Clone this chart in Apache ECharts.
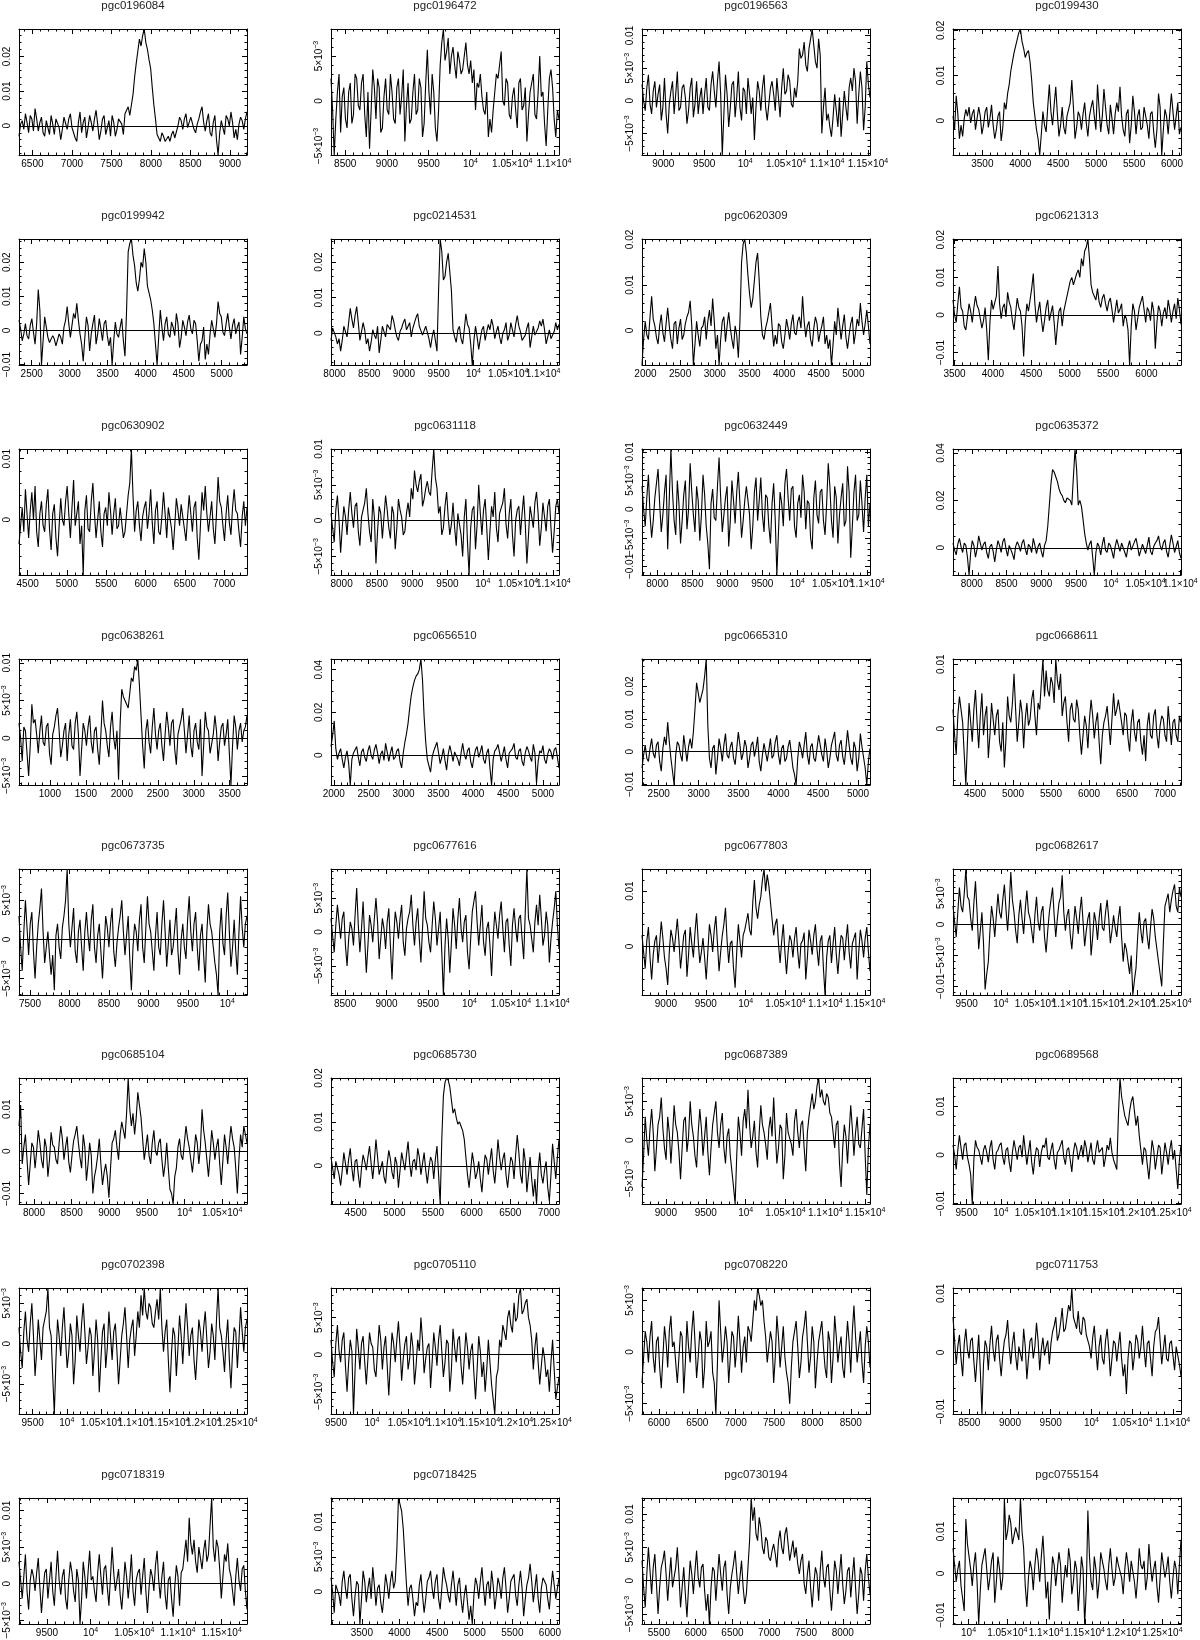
<!DOCTYPE html>
<html><head><meta charset="utf-8">
<script src="https://cdn.jsdelivr.net/npm/echarts@6/dist/echarts.min.js"></script>
<style>html,body{margin:0;padding:0;background:#fff}#c{width:1200px;height:1640px}</style>
</head><body><div id="c"></div>
<script>
const names = ['pgc0196084','pgc0196472','pgc0196563','pgc0199430','pgc0199942','pgc0214531','pgc0620309','pgc0621313',
'pgc0630902','pgc0631118','pgc0632449','pgc0635372','pgc0638261','pgc0656510','pgc0665310','pgc0668611',
'pgc0673735','pgc0677616','pgc0677803','pgc0682617','pgc0685104','pgc0685730','pgc0687389','pgc0689568',
'pgc0702398','pgc0705110','pgc0708220','pgc0711753','pgc0718319','pgc0718425','pgc0730194','pgc0755154'];
// velocity range of each spectrum (km/s)
const xStart = [6330,8330,8740,3113,2333,7950,1950,3480, 4390,7850,7780,7730,570,1960,2290,4210, 7360,8330,8700,9300,7800,4180,8700,9300, 9300,9430,5780,8300,9180,3090,5270,9800];
const xEnd   = [9215,11060,11525,6118,5333,11230,5240,6450, 7290,11080,11040,11010,3740,5230,5150,7210, 10250,11080,11560,12640,10830,7130,11560,12640, 12640,12600,8750,11100,11790,6120,8370,12740];
// major tick step of each flux axis (Jy) and of the velocity axes
const yTick = [0.01,0.005,0.005,0.01,0.01,0.01,0.01,0.01, 0.01,0.005,0.005,0.02,0.005,0.02,0.01,0.01, 0.005,0.005,0.01,0.005,0.01,0.01,0.005,0.01, 0.005,0.005,0.005,0.01,0.005,0.005,0.005,0.01];
const xTick = 500;
// flux values, in units of 1e-4 Jy, one per channel
const UNIT = 1e-4;
const f01=[-30,5,15,-10,35,10,-20,30,20,-15,50,20,-15,10,25,-20,-30,15,10,-25,30,5,-25,20,15,-5,-40,-10,25,30,-10,20,35,-5,-20,-35,-45,10,40,-20,10,25,-35,-5,30,10,-15,20,45,5,-40,-15,20,30,-25,-5,15,-30,30,10,-30,-10,20,25,5,-25,35,40,55,30,60,90,140,180,215,250,230,260,279,240,220,190,165,110,60,20,-25,-35,-45,-20,-30,-45,-40,-30,-45,-25,-15,-35,-40,0,25,15,-10,20,35,-5,10,25,30,-10,-20,5,20,40,55,10,-15,15,35,-20,-30,10,30,-40,-84,-20,15,-5,-25,30,20,0,40,10,-35,-10,-40,5,25,15,-10,20,40];
const f02=[25,-10,-60,-20,10,30,-35,5,15,-20,-30,10,20,-25,-15,30,25,-5,-10,20,30,-15,-40,10,-53,-10,35,15,-20,25,15,-35,-30,5,25,-10,-15,30,10,-20,-25,15,25,-15,5,35,-45,-5,20,-25,-20,10,30,-15,-10,25,15,-40,-25,20,57,10,-15,30,10,-30,-45,-10,40,65,80,45,55,70,30,50,60,40,25,55,45,30,35,50,65,40,30,45,20,35,-10,20,15,30,5,-10,-15,10,-40,-20,-35,-10,10,30,25,40,55,0,-5,25,20,-15,-20,5,15,-10,-30,20,25,-10,-5,15,-45,-15,10,20,30,-15,-20,10,50,5,10,-25,-50,-10,25,35,15,-20,-40,-10,-20];
const f03=[25,0,-15,20,40,-5,-20,15,30,-10,10,25,-30,-10,35,-20,-50,-5,15,30,-20,10,45,-15,-10,20,25,5,-35,-15,20,35,-25,-5,30,-20,5,20,-20,10,35,-10,-15,25,45,15,-10,30,60,10,-83,-20,40,10,-40,-10,25,30,-25,5,45,-10,-30,20,15,-20,35,10,-20,5,-60,-10,30,15,-15,20,40,-10,-30,-5,20,30,10,-15,35,5,-25,20,50,10,15,40,30,-5,-10,20,5,30,80,65,70,90,55,45,80,95,110,85,60,50,95,70,-50,-10,20,-30,-20,-40,-55,-25,10,-15,-40,5,-55,-20,15,-10,-30,20,35,15,50,30,-35,10,45,20,-45,-10,60,25,5];
const f04=[10,-20,55,15,-40,-10,-35,5,25,10,30,-5,15,25,-20,5,30,10,-30,-10,20,30,-15,5,35,-10,-40,-20,10,20,-45,-15,40,25,60,80,110,130,150,165,180,195,203,175,160,140,150,155,130,90,40,10,-20,-40,-76,-30,20,-10,-25,30,80,20,-10,35,75,15,-35,-10,30,-15,-30,10,25,40,90,30,-40,-15,20,10,-20,15,40,-5,-35,10,30,45,10,-20,80,25,-25,10,70,30,-10,-30,35,5,-30,15,40,20,75,10,-20,-35,15,25,-50,-10,55,20,-30,10,25,-20,-15,30,30,-10,-40,15,20,-25,-60,-20,60,30,-76,-20,25,10,-30,15,60,20,-20,10,40,-30,-15];
const f05=[30,5,-30,-10,20,-15,-25,15,35,-5,-40,20,120,60,-101,-30,40,10,-20,-35,-40,-15,-25,-45,-50,-10,-20,-40,10,30,70,20,-20,15,50,35,80,30,-10,-40,-90,-20,40,15,-60,-10,20,45,-40,-10,35,5,-30,20,30,-15,-45,-20,-101,-30,25,-10,-20,10,35,-30,-75,60,230,255,268,220,190,140,115,150,200,185,240,200,130,110,90,60,20,-40,-101,-20,60,10,-30,20,40,-10,-20,25,10,-15,50,20,-50,-20,30,10,-15,25,45,5,-10,30,20,-30,-90,-40,-30,10,-85,-40,-70,-10,30,5,-20,20,85,50,40,-5,-15,20,50,10,-25,15,35,-10,10,25,-70,-20,40,5,-10];
const f06=[-20,15,10,-10,-30,-15,-50,-20,20,5,-10,30,70,40,15,50,75,30,-20,5,30,10,-30,-15,-50,-25,10,-5,-15,20,-55,-20,20,5,-10,25,30,10,50,35,10,-10,-20,5,15,30,40,10,20,30,-10,15,30,45,55,20,15,-5,-10,20,20,-15,-40,-10,10,-20,-50,120,265,230,150,160,200,225,230,120,10,-10,-25,10,20,-15,-30,10,55,25,15,-30,-89,-20,20,-10,-45,-15,10,20,-20,5,25,10,40,20,-15,5,20,-10,-30,0,10,30,-20,-5,30,10,-10,25,50,20,5,-20,-25,-5,15,30,-40,-10,20,-5,-10,15,35,20,40,10,-30,-10,10,-15,-20,5,30,10,25];
const f07=[-76,-20,20,-10,-20,30,75,25,10,-15,-30,10,35,-5,-25,15,50,10,-20,-40,15,20,-30,5,25,-20,-10,15,30,40,65,10,-76,-30,20,-10,-35,5,10,30,-20,20,45,10,70,20,-40,-10,-76,-20,20,30,-25,10,40,5,-20,-40,10,-10,-60,20,150,190,201,170,120,80,50,70,110,150,170,110,30,-10,-20,5,20,40,60,10,-35,-10,-30,15,10,-25,-40,-10,25,5,-20,15,35,-5,-10,20,30,5,75,20,-15,10,20,-20,-35,5,30,15,-25,-5,10,30,-30,-10,-40,-20,-76,-30,20,-10,50,15,-20,10,35,-15,-40,-10,15,30,-30,-5,25,10,60,20,-10,15,45,10,-30];
const f08=[40,0,-20,30,75,20,10,-30,-40,-5,30,10,-20,20,50,25,15,-10,-35,-15,20,-40,-120,-20,40,15,10,50,130,30,-10,20,30,-5,60,35,20,-15,-40,5,45,20,10,-30,-110,-20,30,10,40,70,110,30,-20,10,35,-10,-45,-15,20,40,-15,5,25,-20,-80,-30,10,20,-30,10,30,50,70,90,100,80,85,110,120,100,150,130,170,180,202,150,80,60,50,40,70,35,20,45,55,30,10,35,45,15,-20,10,40,5,15,30,-30,0,-10,-40,-133,-30,30,10,-40,-10,20,35,50,15,-20,20,10,-15,35,10,-90,-20,25,10,-30,5,20,-10,40,15,-20,10,30,-10,45,15,-25];
const f09=[-40,-10,20,-20,50,10,-30,15,45,0,55,-20,-45,10,30,-10,-20,25,50,-15,-50,10,25,-30,-60,-10,35,0,-10,30,55,10,-30,20,65,-10,10,30,-40,-10,-91,15,40,-15,-20,30,60,10,-30,0,30,-20,-45,10,20,-10,45,15,-25,10,35,-15,-10,20,20,-30,-20,10,40,60,116,40,-20,15,30,-10,-35,5,20,30,-15,10,50,-5,-40,15,30,-20,-25,5,45,10,-30,20,20,-15,-50,-10,35,15,-10,25,25,-15,-35,5,40,10,-20,20,30,-30,-66,-10,45,15,55,10,-20,5,30,-15,-40,10,70,30,20,-10,-35,10,40,-5,-25,20,50,15,10,-20,-45,5,30,-10,20];
const f10=[10,-10,-30,15,35,0,-45,-10,20,5,-20,15,40,10,-10,20,25,-15,-35,5,15,25,45,10,-15,-30,30,5,-60,-15,20,10,-25,5,35,15,-10,-25,20,10,-40,-10,30,15,5,-20,-15,10,25,5,45,30,70,50,40,55,65,20,30,45,55,40,35,70,100,60,45,10,20,-20,-10,20,40,5,-20,-5,25,-10,-35,10,10,-20,-50,5,30,-30,-76,-10,15,20,-40,-5,50,10,-20,15,30,-10,-55,-15,20,5,40,-10,-30,10,10,25,45,-5,-25,10,30,-20,-50,0,15,20,-20,10,35,-5,-60,-20,20,5,-10,25,40,10,-35,-10,25,5,-15,20,30,-10,-45,-15,20,30,10];
const f11=[40,0,-30,20,60,-10,-50,-20,20,45,70,10,-40,-10,30,60,-70,20,105,30,-20,-45,50,10,-60,-20,25,50,-35,0,80,30,-10,-40,40,15,-55,-10,60,25,-30,-60,-105,10,35,-15,-20,40,90,20,-40,-10,20,40,-65,-20,50,15,-25,30,65,10,-50,-20,15,40,40,-10,-70,-30,30,55,-20,15,55,-10,-40,25,20,-30,-60,10,45,-20,-115,-40,30,10,-30,45,70,20,-20,35,40,-30,-50,10,25,-15,60,30,-35,15,10,-50,-70,20,50,-10,-25,30,35,-20,-45,10,80,40,-20,-50,40,20,-60,-10,20,45,-30,-20,75,30,-85,-30,30,60,-20,-10,50,10,-40,20,60,-30,10];
const f12=[20,-10,-30,15,40,5,-20,20,10,-40,-115,-20,30,10,-40,-5,50,20,-10,15,25,-20,-45,5,15,-15,-60,-10,30,10,-20,25,40,-5,-35,10,10,-25,-50,5,25,10,-15,20,35,-5,-30,15,5,-20,40,10,-25,5,20,-15,-40,10,30,90,180,270,330,320,300,280,250,230,220,200,190,210,215,200,180,300,417,330,180,200,175,120,60,20,-10,15,30,-40,-115,-20,20,5,-30,15,45,-10,-20,20,10,-15,-45,5,35,10,-15,20,25,-20,-40,5,30,-10,-10,25,40,5,-35,-10,15,20,-25,10,45,-15,-30,5,20,30,50,10,-10,20,35,-15,-40,10,55,20,-20,5,30,-20,-45];
const f13=[20,0,-30,15,10,-20,-50,-10,45,20,25,5,-20,10,30,-5,-10,15,20,-20,-35,5,15,30,40,10,-25,-10,10,20,-30,5,25,-10,-15,20,35,5,-50,-15,20,10,-10,15,30,-5,-20,10,15,-15,-35,5,50,20,10,-10,-25,15,35,0,-15,10,-55,20,65,55,50,45,40,60,80,75,95,90,105,70,30,-10,-40,10,25,-5,-20,15,40,5,-15,10,20,-10,-30,5,35,15,-10,20,25,-15,-35,5,15,25,40,10,-20,5,30,-10,-25,10,20,-5,-15,25,-50,-10,35,15,10,-20,-20,5,30,10,-30,-5,15,20,-10,5,25,-20,-62,-10,30,15,-15,10,20,-5,10,15,30];
const f14=[40,90,160,30,-20,10,30,-20,-60,-10,20,-40,-140,-20,10,25,40,-10,-50,15,30,-10,-30,20,45,0,-20,25,50,10,-40,5,20,-25,55,15,-30,10,40,-20,-10,20,30,-30,-60,10,60,100,150,220,280,320,350,370,380,400,450,350,180,60,-20,-50,-80,-10,20,40,60,10,-40,-10,30,-25,-70,5,45,10,-30,15,20,-20,-50,10,55,5,-20,20,35,-30,-60,-10,25,40,-10,15,45,-20,-40,10,30,-60,-140,-20,20,30,50,10,-30,5,40,-20,-60,10,15,30,55,-10,-20,20,30,-30,-50,10,40,20,-10,-30,50,10,-130,-30,20,10,45,-20,-40,5,30,15,-20,25,35,-10,-60];
const f15=[-50,-10,20,-20,-30,10,40,-5,-20,20,30,-30,-60,10,45,20,90,30,-20,-60,-102,-10,30,20,-10,-30,50,10,-30,15,40,10,60,130,210,180,150,170,190,230,283,80,-20,-50,10,20,-70,-20,40,10,-30,20,55,-10,-20,15,30,-20,-40,10,60,20,-25,-5,35,15,-50,-20,20,30,-15,10,45,-30,-60,-10,25,20,-30,5,40,-20,-10,30,50,-10,-40,10,20,-30,-20,15,35,-5,-50,-70,-102,-20,30,10,-20,20,60,-10,-40,15,25,-20,-30,10,50,20,-10,-30,40,5,-50,-20,20,40,60,-10,-30,20,35,-15,-40,10,65,20,-20,-40,30,10,-60,-20,55,15,20,-50,-102,-30,10];
const f16=[30,-10,-40,20,50,30,10,-40,-87,-20,40,10,-20,30,60,10,-30,20,55,-10,20,35,-45,-10,40,15,-10,20,30,-20,-35,10,-60,-15,50,20,10,40,85,30,-20,10,45,25,-30,15,40,5,15,45,60,20,-10,40,30,70,108,50,90,60,50,80,70,40,108,75,60,85,20,40,50,10,-20,30,40,15,10,45,30,-10,-40,-10,20,5,-30,15,45,20,-15,10,25,-20,-55,-10,10,20,35,5,-25,15,55,20,30,45,45,10,-10,25,20,-15,-35,10,30,-5,-20,10,15,-20,-40,-10,-50,5,25,-10,-15,20,30,-10,-30,5,20,15,-10,-20,35,5,-25,10,15,-10,-20,20,10];
const f17=[30,-10,-40,10,50,15,-20,20,35,-15,-50,-10,20,40,65,10,-30,-10,10,-20,-45,-20,-65,5,20,-10,-25,15,30,50,90,20,-10,15,40,-15,-30,10,25,-10,-40,10,35,5,-15,25,45,-10,-30,5,20,-15,-50,-10,30,15,-10,20,40,-15,-35,-5,15,30,50,10,-20,5,30,-25,-65,-10,20,10,-15,25,45,-10,-30,15,55,20,10,-15,-40,5,35,-10,-20,20,50,10,-35,-5,25,-20,-10,15,40,-15,-45,0,20,-10,-25,25,55,10,-15,20,35,-10,-40,5,20,-20,-55,10,45,20,10,-10,-30,-45,-71,10,40,-5,-20,30,60,10,-35,-10,25,-15,-45,10,55,15,-10,20,30];
const f18=[20,-5,-30,10,40,15,-10,20,30,-20,-50,-10,15,5,-20,25,65,10,-30,5,45,-10,-60,-20,25,10,-15,20,50,15,-40,-10,20,5,-25,15,35,-20,-70,-10,30,15,-10,20,40,-15,-35,5,20,30,55,10,-20,15,35,-10,-45,5,60,20,10,-15,-30,10,45,20,-20,5,30,-30,-93,-20,20,-10,-60,-15,35,10,-25,20,50,5,-15,15,25,-30,-55,-10,30,45,60,15,-20,10,40,-15,-35,5,15,-20,-65,-10,30,10,-10,25,45,5,-30,15,20,-20,-50,10,35,5,-15,20,25,-10,-40,30,93,20,10,-10,-30,15,40,10,55,20,-20,-5,30,10,-45,-10,15,35,60,10,-25];
const f19=[20,-10,-40,10,35,-20,-60,-15,10,20,-30,5,45,15,-20,-40,-70,-10,30,15,-10,20,50,10,-40,-10,20,30,-55,-15,35,5,-20,25,60,10,-30,-10,15,-20,-60,-10,40,20,-10,30,55,5,-45,-10,20,40,70,10,-30,5,10,-40,-75,-10,40,10,-20,20,30,45,60,30,20,80,120,70,50,75,90,120,140,100,130,110,80,50,20,40,50,5,-30,10,40,-10,-50,-10,20,10,-20,15,35,-10,-40,5,10,25,-60,-20,30,10,-15,20,40,-5,-35,10,20,-40,-88,-20,10,20,-30,5,35,-15,-50,-10,20,15,-25,10,40,-10,-40,5,15,25,-60,-10,30,10,-20,15,35,-10,-45];
const f20=[30,5,-20,20,60,30,20,50,90,45,40,10,-10,35,70,20,-40,-10,20,-30,-105,-80,-60,-10,30,10,-20,15,50,20,10,40,65,25,-10,30,85,40,20,-10,-30,15,40,10,-15,25,55,20,10,-10,-30,15,45,5,-10,20,30,-20,-45,-10,20,40,60,15,-20,10,35,45,80,20,-10,15,25,-15,-40,-5,30,10,-15,20,45,5,-35,-10,10,20,-50,-20,20,5,-25,10,35,-5,-10,20,40,10,-30,-10,15,-5,-20,10,30,-20,-60,-30,-40,-60,-80,-50,-114,-90,-70,-20,20,-10,-30,5,10,-20,-40,-5,25,10,-20,-40,-60,-80,-100,-30,30,40,50,20,40,55,65,30,20,60,45];
const f21=[60,110,-30,10,40,-20,-80,-30,20,10,-40,0,50,20,-20,-40,30,10,-60,-20,45,15,10,-20,-30,20,60,30,-20,10,35,-25,-50,-10,25,40,60,20,-15,-40,40,10,-70,-30,20,-10,-100,-60,-40,-10,30,-30,-80,-50,-30,-60,-110,-40,20,30,50,10,-20,40,70,50,30,90,174,100,60,90,40,80,140,110,80,30,-20,10,40,-10,-30,20,50,0,-10,20,30,-20,-60,-30,20,-40,-90,-100,-125,-60,-40,10,30,-10,-20,20,60,30,10,-20,-50,-10,40,20,-30,10,100,50,20,-20,-60,-10,50,20,-20,10,30,-30,-80,-20,40,10,-30,20,60,30,10,-40,-100,-20,40,10,60,40,20];
const f22=[20,-5,-30,10,10,-20,-45,-10,30,5,-20,15,40,-5,-35,10,15,-20,-50,-5,25,10,-10,20,45,5,-30,10,60,20,-20,-5,10,-25,-40,5,35,15,-15,-30,20,5,-50,-10,30,10,-10,25,55,5,-25,10,15,-10,40,20,-20,5,30,-10,-40,-5,20,10,-30,15,45,-20,-87,60,160,190,200,195,180,150,120,130,110,95,100,90,80,60,20,-20,-50,-10,30,5,-30,-15,10,-30,-60,-10,25,15,-20,10,40,-10,-40,5,60,20,-10,15,30,-20,-50,-10,20,10,-30,25,70,30,-20,-40,40,10,-60,-20,20,-30,-70,-30,-87,-10,30,-20,-40,-10,10,-50,-80,-20,50,10,-30,20,60];
const f23=[-60,-20,30,0,-20,15,40,10,-40,-10,20,30,55,15,-10,-25,30,10,-30,5,45,20,10,-15,-50,-10,25,30,-15,5,50,20,5,-20,-35,10,40,15,-20,5,30,-15,-45,-10,20,35,50,10,-10,20,35,-10,-30,5,15,-20,-40,-60,-82,-20,30,10,-20,25,40,15,65,20,-10,5,25,-15,-35,10,45,20,10,-5,-25,15,30,5,55,10,-30,-10,20,15,-50,-20,35,10,10,-5,-20,25,40,10,-10,20,25,-10,-40,10,30,45,60,40,50,70,80,55,65,50,45,60,55,35,30,10,-10,20,25,-30,-60,-10,20,5,-30,10,45,15,-20,10,30,-5,-10,15,40,-20,-70,-10,20];
const f24=[20,0,-30,10,40,15,-10,20,25,-5,-20,-40,-101,-10,30,15,10,-5,-20,10,20,5,-15,15,30,-10,-30,5,10,20,25,-5,-20,10,15,-15,-35,5,30,10,-10,15,20,-5,40,10,-20,5,30,-15,-40,-5,15,10,-25,5,20,15,35,-5,-10,10,25,-10,-30,5,10,20,30,-5,-20,10,15,-10,-35,5,25,15,-10,5,20,-5,30,15,-15,5,25,-10,-20,10,30,5,10,15,-25,-5,20,10,35,5,-10,-20,-30,80,158,120,100,80,70,60,90,110,120,90,60,80,40,10,-20,15,10,-20,-50,-10,30,10,-30,-5,20,15,-40,-10,25,5,-20,10,30,-10,10,-30,-70,-10,20];
const f25=[20,-10,-30,15,40,5,-10,25,50,10,-40,-10,30,5,-20,20,20,40,69,20,10,-40,-87,-20,30,10,-15,20,45,5,-30,-10,25,10,-50,-20,35,10,-10,25,50,15,-25,-5,20,10,-40,-10,30,5,-60,-20,15,25,-30,-5,40,10,-20,15,25,-10,-50,-20,10,25,45,10,-30,5,20,30,-15,10,40,20,60,35,69,40,30,50,45,25,20,40,55,30,69,20,-10,15,30,-20,-60,-10,20,10,-40,-5,35,10,-25,15,50,20,-15,10,20,-20,-45,-10,30,15,-10,20,40,5,-30,-10,25,10,-20,30,69,20,10,-10,-35,5,30,-20,-55,-10,20,15,-30,5,45,15,-10,20,30];
const f26=[20,-10,-30,15,40,5,-10,20,30,-15,-50,-10,20,5,-80,-20,35,10,-20,15,25,-10,-40,-5,30,15,10,-20,-30,5,40,20,-20,10,25,-15,-55,-10,30,15,-10,20,45,10,-35,-5,15,25,-20,-5,30,10,-40,-15,20,5,50,20,-25,-5,10,15,-45,-10,30,10,-15,20,40,5,-30,-10,20,15,-50,-20,35,10,-10,20,25,-15,-40,-5,30,10,-20,5,15,-25,-60,-20,25,5,-30,-10,-50,-20,20,-10,-40,-60,-80,-30,-20,20,10,40,30,20,50,60,40,30,70,45,50,80,90,55,60,70,75,50,40,20,-20,10,30,-10,-40,-15,10,-5,-30,-20,-50,-10,20,-20,-60,-45,-30];
const f27=[-30,-5,20,10,-10,15,30,-5,-20,10,15,-15,-35,-5,25,10,-15,20,35,5,10,-10,-30,-5,20,15,-40,-10,30,5,-10,20,40,10,-25,-5,20,10,-35,-15,30,5,10,20,-20,-30,-60,-10,50,20,-10,5,25,10,-30,-5,20,15,-15,5,35,10,-20,5,15,-10,25,20,10,30,50,40,62,55,45,50,30,15,-10,5,20,10,-30,-5,35,15,-15,5,25,-5,-20,-30,-50,-15,10,20,30,5,-25,-10,15,25,40,10,-20,-5,25,10,-35,-10,10,20,30,5,-15,-25,20,10,-30,-5,35,15,-10,5,15,-15,-25,5,30,10,-20,20,45,15,-10,5,20,-10,-30,5,25,10,-15];
const f28=[60,20,-20,10,30,-10,-40,15,40,5,-10,20,25,-15,-50,-10,30,-30,-104,-20,20,10,-30,15,45,5,-15,20,30,-10,-40,-5,20,30,55,10,-20,15,35,-5,-30,10,10,-15,40,10,-45,-10,20,25,-10,10,50,20,-30,5,25,-5,10,20,-20,15,35,45,60,20,30,50,75,35,40,60,80,70,109,60,50,40,70,35,30,60,55,30,20,10,-10,25,45,5,-30,10,30,-10,-20,20,40,5,-40,-10,20,15,-15,10,35,-10,-40,-20,-70,-10,20,15,-30,-5,30,20,-10,10,45,5,-25,15,20,-10,-40,10,35,40,60,20,-20,5,30,-10,-15,15,20,-5,-30,10,10,-20,-40];
const f29=[30,5,-20,10,40,-10,-35,5,20,10,-10,15,35,-5,-40,-10,15,20,-20,5,30,-10,-30,10,45,5,-15,10,20,-20,-35,5,30,15,-10,-25,20,5,-55,-20,30,10,-20,15,45,5,10,-10,-25,15,40,10,-15,20,25,-5,-30,10,50,15,-10,5,20,-15,-35,-5,30,10,-20,5,40,-10,-30,5,15,20,-15,10,35,-10,-40,-5,20,10,-10,25,45,5,-20,10,30,-15,-35,5,10,-20,-45,-5,25,10,-30,15,20,40,60,30,90,55,40,60,30,15,50,35,20,45,60,30,40,80,117,50,30,60,50,20,-20,10,40,30,55,20,10,-10,-30,10,35,5,-10,20,25,-10,-35];
const f30=[20,0,-30,10,10,-5,-20,15,30,5,-10,20,25,-10,-35,-5,15,10,-46,-10,30,15,-15,5,20,-10,35,10,-20,5,10,-15,-30,-5,25,10,-10,15,30,5,15,60,134,125,115,90,50,10,-20,5,10,-10,-35,-15,-20,10,25,-5,-30,-10,15,20,30,5,-10,15,25,-10,-25,5,35,20,10,-5,-15,10,30,5,-20,10,20,-10,-30,-5,10,-15,-40,-20,-46,-5,20,10,-10,15,35,5,-20,10,15,-10,30,10,-25,-5,20,10,-10,20,35,5,-30,-10,15,20,25,-5,-20,10,30,5,-35,-10,10,20,40,15,-15,5,25,-10,-30,5,20,15,10,-10,-25,5,30,10,-10,5,20];
const f31=[30,-10,-40,10,50,15,-20,20,40,-5,-50,-10,20,30,45,10,-30,5,35,-10,-10,20,50,10,-40,-10,20,-20,-55,-10,30,10,-20,15,45,5,-10,20,25,-15,-45,-20,-65,-10,20,15,-30,5,40,10,-15,20,30,-20,-50,-10,10,25,45,10,-20,5,30,-10,-35,-20,20,60,124,90,110,70,60,95,80,50,40,65,60,35,30,45,55,40,20,60,75,50,40,70,80,55,30,45,60,35,50,25,10,30,40,-5,-20,10,30,-10,-40,-5,20,10,-30,15,45,5,-10,20,25,-15,-45,-10,30,15,-20,10,40,-5,-35,-15,15,20,-25,5,35,-10,-50,-20,20,10,-30,15,40,5,-20];
const f32=[60,20,-20,10,30,-30,-60,-90,130,70,40,10,-30,20,50,-20,-121,-40,20,40,60,10,-40,-10,30,50,-70,-20,40,10,-40,-10,180,80,100,140,120,70,90,110,110,80,180,100,60,-30,-80,-10,30,10,-40,20,60,30,-20,40,90,20,-60,-20,-110,-30,40,20,-30,10,50,20,-70,-20,20,-10,60,30,-50,-20,30,10,-90,-30,40,10,-121,-40,150,40,-20,-40,40,10,-60,-20,50,30,10,-20,-40,20,60,10,-30,-10,40,20,20,-10,-50,10,50,20,-20,30,30,-20,-60,-10,60,20,10,30,-40,-10,70,20,-20,10,30,-30,-70,-10,50,20,-10,10,40,-20,-60,-10,30,10,-50,20,80];
const fluxes=[f01,f02,f03,f04,f05,f06,f07,f08,f09,f10,f11,f12,f13,f14,f15,f16,f17,f18,f19,f20,f21,f22,f23,f24,f25,f26,f27,f28,f29,f30,f31,f32];

// ---------- layout / style ----------
const FONT = 'Liberation Sans, Arial, Helvetica, sans-serif';
const BOX_W = 228, BOX_H = 126;
const colLeft = [19, 331, 642, 953];
const rowTop0 = 29.3, rowStep = 209.8;
const rich = {
  t: {fontSize: 10, lineHeight: 13, fontFamily: FONT, color: '#000'},
  s: {fontSize: 7, lineHeight: 8, verticalAlign: 'top', fontFamily: FONT, color: '#000'}
};
function isMult(v, iv){ const k = v/iv; return Math.abs(k - Math.round(k)) < 1e-6; }
function xLabel(v){
  if (!isMult(v, xTick)) return '';
  const r = Math.round(v);
  if (r >= 10000) {
    const m = +(r/10000).toFixed(2);
    return (m === 1 ? '{t|10}' : '{t|' + m + '×10}') + '{s|4}';
  }
  return '{t|' + r + '}';
}
function yLabelFor(iv){
  return function(v){
    if (!isMult(v, iv)) return '';
    const r = Math.round(v/iv)*iv;
    if (Math.abs(r) < 1e-12) return '{t|0}';
    const sign = r < 0 ? '−' : '';
    const a = Math.abs(r);
    if (a >= 0.0099) return '{t|' + sign + a.toFixed(2) + '}';
    const m = Math.round(a*1e5)/100;
    return '{t|' + sign + m + '×10}{s|−3}';
  };
}
const blk = {color: '#000', width: 1};
function axisBase(extra){
  return Object.assign({
    type: 'value',
    axisLine: {show: true, onZero: false, lineStyle: blk},
    axisTick: {show: true, inside: true, length: 5, lineStyle: blk},
    minorTick: {show: true, splitNumber: 5, length: 2.5, lineStyle: blk},
    splitLine: {show: false}, minorSplitLine: {show: false},
    axisPointer: {show: false}, silent: true
  }, extra);
}

const grid = [], title = [], xAxis = [], yAxis = [], series = [];
names.forEach(function(nm, k){
  const r = Math.floor(k/4), c = k % 4;
  const left = colLeft[c], top = Math.round(rowTop0 + r*rowStep);
  grid.push({left: left, top: top, width: BOX_W, height: BOX_H, containLabel: false, outerBoundsMode: 'none', show: false});
  title.push({text: nm, left: left + BOX_W/2, top: top - 29, textAlign: 'center', padding: 0,
    textStyle: {fontSize: 11.5, fontWeight: 'normal', color: '#222', fontFamily: FONT}});
  const vals = fluxes[k].map(function(v){ return v*UNIT; });
  const n = vals.length, x0 = xStart[k], x1 = xEnd[k];
  const data = vals.map(function(v, i){ return [x0 + (x1 - x0)*i/(n - 1), v]; });
  const ymin = Math.min.apply(null, vals), ymax = Math.max.apply(null, vals);
  const iv = yTick[k];
  const ySplit = Math.abs(iv/Math.pow(10, Math.floor(Math.log10(iv)+1e-9)) - 2) < 1e-6 ? 4 : 5;
  const xl = {show: true, margin: 3, formatter: xLabel, rich: rich, hideOverlap: false, showMinLabel: true, showMaxLabel: true};
  xAxis.push(axisBase({gridIndex: k, position: 'bottom', min: x0, max: x1, minInterval: xTick, maxInterval: xTick, splitNumber: 6, axisLabel: xl}));
  xAxis.push(axisBase({gridIndex: k, position: 'top', min: x0, max: x1, minInterval: xTick, maxInterval: xTick, splitNumber: 6, axisLabel: {show: false}}));
  const yl = {show: true, margin: 5, rotate: 90, formatter: yLabelFor(iv), rich: rich, hideOverlap: false, showMinLabel: true, showMaxLabel: true};
  const ymt = {show: true, splitNumber: ySplit, length: 2.5, lineStyle: blk};
  yAxis.push(axisBase({gridIndex: k, position: 'left', min: ymin, max: ymax, minInterval: iv, maxInterval: iv, splitNumber: 4, minorTick: ymt, axisLabel: yl}));
  yAxis.push(axisBase({gridIndex: k, position: 'right', min: ymin, max: ymax, minInterval: iv, maxInterval: iv, splitNumber: 4, minorTick: ymt, axisLabel: {show: false}}));
  series.push({
    type: 'line', xAxisIndex: 2*k, yAxisIndex: 2*k, data: data,
    showSymbol: false, symbol: 'none', silent: true, animation: false,
    lineStyle: {color: '#000', width: 1.1}, itemStyle: {color: '#000'},
    emphasis: {disabled: true},
    markLine: {silent: true, symbol: 'none', animation: false, label: {show: false},
      lineStyle: {color: '#000', width: 1, type: 'solid'}, emphasis: {disabled: true},
      data: [{yAxis: 0}]}
  });
});

const chart = echarts.init(document.getElementById('c'), null, {renderer: 'canvas', width: 1200, height: 1640});
chart.setOption({backgroundColor: '#fff', animation: false, title: title, grid: grid, xAxis: xAxis, yAxis: yAxis, series: series, tooltip: {show: false}});
</script>
</body></html>
